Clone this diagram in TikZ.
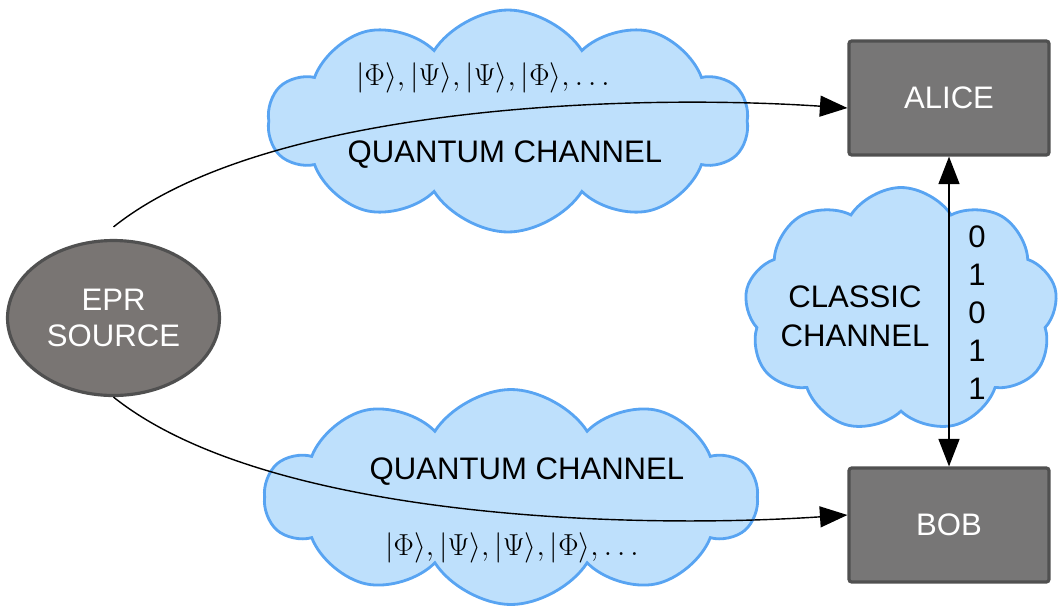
\documentclass[tikz,border=0pt]{standalone}
\usepackage{fontspec}
\setmainfont{Liberation Sans}
\usetikzlibrary{shapes.symbols,shapes.geometric,arrows.meta}
\definecolor{cloudfill}{RGB}{190,224,252}
\definecolor{cloudline}{RGB}{88,164,242}
\definecolor{boxfill}{RGB}{119,118,118}
\definecolor{eprfill}{RGB}{121,117,115}
\definecolor{boxline}{RGB}{80,80,80}

\begin{document}
\begin{tikzpicture}[>={Triangle[length=0.55cm,width=0.42cm]}]
        \tikzstyle{cloudbox}=[cloud, cloud puffs=10, cloud puff arc=115, cloud ignores aspect, draw=cloudline, line width=1.6pt, fill=cloudfill]
        \tikzstyle{party}=[rectangle, rounded corners=1.5pt, draw=boxline, line width=1.8pt, fill=boxfill, minimum width=4.0cm, minimum height=2.28cm, text=white, font=\fontsize{17.7}{20}\selectfont]
        \tikzstyle{chantext}=[align=center, font=\fontsize{17.7}{20}\selectfont]
        \useasboundingbox (0,0) rectangle (21.16,-12.26);
        \node[cloudbox, minimum width=9.6cm, minimum height=4.44cm] (qtop) at (10.16,-2.42) {};
        \node[cloudbox, minimum width=9.84cm, minimum height=4.3cm] (qbot) at (10.22,-9.94) {};
        \node[cloudbox, cloud puffs=9, minimum width=6.26cm, minimum height=4.9cm] (classic) at (18.02,-6.2) {};
        \node[ellipse, draw=boxline, line width=1.8pt, fill=eprfill, minimum width=4.24cm, minimum height=3.1cm, text=white, align=center, font=\fontsize{17.7}{20}\selectfont] (epr) at (2.27,-6.36) {EPR\\SOURCE};
        \node[party] (alice) at (18.98,-1.96) {ALICE};
        \node[party] (bob) at (18.98,-10.5) {BOB};
        \node[chantext] (qtopstates) at (9.66,-1.56) {$|\Phi\rangle, |\Psi\rangle, |\Psi\rangle, |\Phi\rangle, \ldots$};
        \node[chantext] (qtoptext) at (10.1,-3.1) {QUANTUM CHANNEL};
        \node[chantext] (qbottext) at (10.54,-9.44) {QUANTUM CHANNEL};
        \node[chantext] (qbotstates) at (10.24,-10.96) {$|\Phi\rangle, |\Psi\rangle, |\Psi\rangle, |\Phi\rangle, \ldots$};
        \node[chantext, font=\fontsize{17.7}{22}\selectfont] (classictext) at (17.1,-6.32) {CLASSIC\\CHANNEL};
        \node[chantext, font=\fontsize{17.7}{21.6}\selectfont] (bits) at (19.54,-6.26) {0\\1\\0\\1\\1};
        \draw[->,thick] ([yshift=0.24cm]epr.north) .. controls +(3.0,2.4) and +(-4.5,0.3) .. ([yshift=-0.2cm]alice.west);
        \draw[->,thick] (epr.south) .. controls +(3.0,-2.4) and +(-4.5,-0.3) .. ([yshift=0.2cm]bob.west);
        \draw[<->,thick] (alice.south) -- (bob.north);
\end{tikzpicture}
\end{document}
